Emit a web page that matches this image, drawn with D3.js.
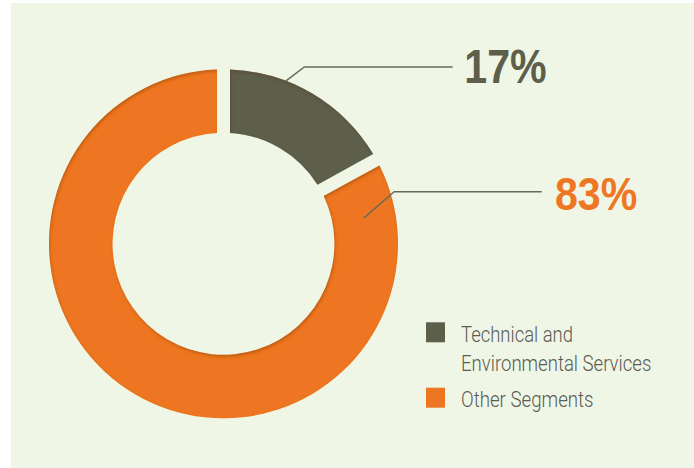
<!DOCTYPE html>
<html>
<head>
<meta charset="utf-8">
<script src="https://cdn.jsdelivr.net/npm/d3@7"></script>
<style>
  html, body { margin: 0; padding: 0; background: #ffffff; }
  svg { display: block; }
</style>
</head>
<body>
<div id="chart"></div>
<script>
// Segment shares (percent of total)
const categories = ["Technical and Environmental Services", "Other Segments"];
const shares = [17, 83];
const segmentColors = ["#5d5f4b", "#ee7623"];
const legendLines = [["Technical and", "Environmental Services"], ["Other Segments"]];
const valueLabels = shares.map(v => v + "%");

const W = 694, H = 468;
const cx = 223.5, cy = 243.8;
const rOuter = 174.5, rInner = 111;
const gap = 13; // constant-width gap between segments, px

const svg = d3.select("#chart").append("svg")
  .attr("width", W).attr("height", H);

// soft inset shadow along the ring edges
const defs = svg.append("defs");
const f = defs.append("filter").attr("id", "inset")
  .attr("x", "-10%").attr("y", "-10%").attr("width", "120%").attr("height", "120%");
f.append("feComponentTransfer").attr("in", "SourceAlpha").attr("result", "inv")
  .append("feFuncA").attr("type", "table").attr("tableValues", "1 0");
f.append("feGaussianBlur").attr("in", "inv").attr("stdDeviation", 1.6).attr("result", "blur");
f.append("feOffset").attr("in", "blur").attr("dx", 1).attr("dy", 2).attr("result", "off");
f.append("feFlood").attr("flood-color", "#5a2a00").attr("flood-opacity", 0.45).attr("result", "col");
f.append("feComposite").attr("in", "col").attr("in2", "off").attr("operator", "in").attr("result", "sh");
f.append("feComposite").attr("in", "sh").attr("in2", "SourceAlpha").attr("operator", "in").attr("result", "shIn");
const m = f.append("feMerge");
m.append("feMergeNode").attr("in", "SourceGraphic");
m.append("feMergeNode").attr("in", "shIn");

// panel background
svg.append("rect")
  .attr("x", 11).attr("y", 3).attr("width", W - 11).attr("height", H - 3)
  .attr("fill", "#eff6e6");

const pie = d3.pie().sort(null).value(d => d);
const arcs = pie(shares);
const arc = d3.arc()
  .innerRadius(rInner).outerRadius(rOuter)
  .padRadius(rOuter).padAngle(gap / rOuter);

const color = d3.scaleOrdinal().domain(categories).range(segmentColors);

const ring = svg.append("g").attr("transform", `translate(${cx},${cy})`);
ring.selectAll("path")
  .data(arcs)
  .join("path")
  .attr("d", arc)
  .attr("fill", (d, i) => color(categories[i]))
  .attr("filter", "url(#inset)");

// value callouts: anchor on the ring, short diagonal, then horizontal rule
const callouts = [
  { angle: 21,   r: rOuter,                 elbow: [18.3, -14],  lineEnd: 452.7, textX: 464.3, baseline: 82.7, size: 48, width: 82.4, fill: "#5d5f4b" },
  { angle: 79.6, r: (rOuter + rInner) / 2,  elbow: [30.3, -26.3], lineEnd: 541.7, textX: 555,   baseline: 210,  size: 47, width: 82.3, fill: "#ef7622" }
];

callouts.forEach((c, i) => {
  const a = c.angle * Math.PI / 180;
  const x0 = cx + c.r * Math.sin(a);
  const y0 = cy - c.r * Math.cos(a);
  const x1 = x0 + c.elbow[0], y1 = y0 + c.elbow[1];
  svg.append("path")
    .attr("d", d3.line()([[x0, y0], [x1, y1], [c.lineEnd, y1]]))
    .attr("fill", "none")
    .attr("stroke", "#686a58")
    .attr("stroke-width", 1.5);
  svg.append("text")
    .attr("x", c.textX).attr("y", c.baseline)
    .attr("font-family", "'Liberation Sans Narrow', 'Liberation Sans', Arial, sans-serif")
    .attr("font-weight", 700)
    .attr("font-size", c.size)
    .attr("textLength", c.width)
    .attr("lengthAdjust", "spacingAndGlyphs")
    .attr("fill", c.fill)
    .text(valueLabels[i]);
});

// legend
const legend = svg.append("g");
const legendRows = [
  { sqY: 322.3, baselines: [342.3, 371], widths: [112, 190.3] },
  { sqY: 387.7, baselines: [406.7],      widths: [132.6] }
];
legendRows.forEach((row, i) => {
  legend.append("rect")
    .attr("x", 426).attr("y", row.sqY)
    .attr("width", 19).attr("height", 20)
    .attr("fill", color(categories[i]));
  legendLines[i].forEach((line, j) => {
    legend.append("text")
      .attr("x", 461).attr("y", row.baselines[j])
      .attr("font-family", "Roboto, 'Liberation Sans', sans-serif")
      .attr("font-weight", 300)
      .attr("font-size", 22.5)
      .attr("textLength", row.widths[j])
      .attr("lengthAdjust", "spacingAndGlyphs")
      .attr("fill", "#5a5b55")
      .text(line);
  });
});
</script>
</body>
</html>
